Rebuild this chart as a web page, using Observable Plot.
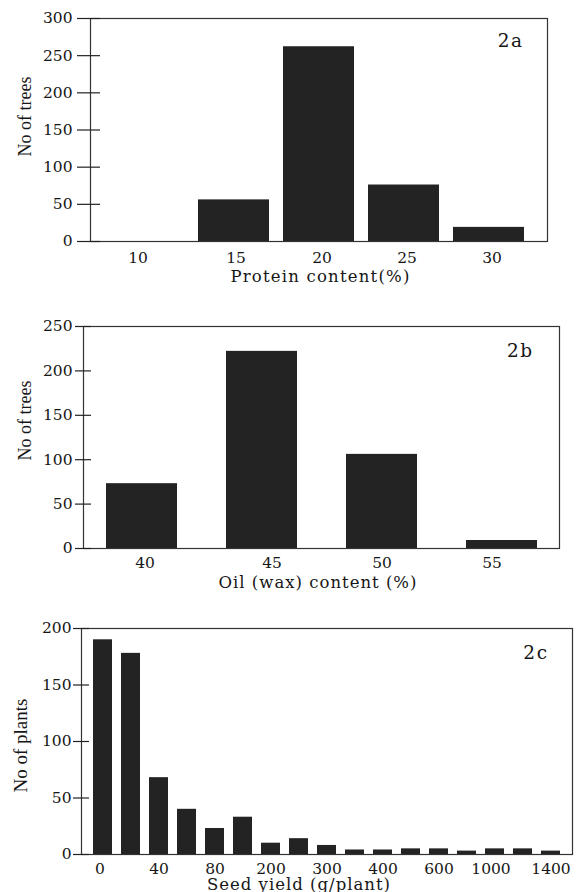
<!DOCTYPE html>
<html><head><meta charset="utf-8">
<script src="https://cdn.jsdelivr.net/npm/d3@7"></script>
<script src="https://cdn.jsdelivr.net/npm/@observablehq/plot@0.6"></script>
<style>
body{margin:0;background:#fff;}
#fig{position:relative;width:578px;height:892px;overflow:hidden;background:#fff;}
.panel{position:absolute;left:0;}
</style></head><body><div id="fig"></div>
<script>
// Panel 2a: protein content
const proteinBins = ["10", "15", "20", "25", "30"];
const proteinTrees = [0, 56, 262, 76, 19];
const proteinYTicks = [0, 50, 100, 150, 200, 250, 300];

// Panel 2b: oil (wax) content
const oilBins = ["40", "45", "50", "55"];
const oilTrees = [73, 222, 106, 9];
const oilYTicks = [0, 50, 100, 150, 200, 250];

// Panel 2c: seed yield
const seedBins = ["0", "20", "40", "60", "80", "100", "200", "250", "300", "350", "400", "500", "600", "800", "1000", "1200", "1400"];
const seedPlants = [190, 178, 68, 40, 23, 33, 10, 14, 8, 4, 4, 5, 5, 3, 5, 5, 3];
const seedXTicks = ["0", "40", "80", "200", "300", "400", "600", "1000", "1400"];
const seedYTicks = [0, 50, 100, 150, 200];

function panel(o) {
  const data = o.bins.map((b, i) => ({bin: b, n: o.values[i]}));
  const plotW = 578 - o.m[1] - o.m[3];
  const shifts = o.xShift || {};
  const plainTicks = o.xTicks.filter(t => !(t in shifts));
  const xAxisOpts = {tickSize: 0, tickPadding: o.lab.xPad, label: null};
  const svg = Plot.plot({
    width: 578, height: o.height,
    marginTop: o.m[0], marginRight: o.m[1], marginBottom: o.m[2], marginLeft: o.m[3],
    style: {fontFamily: "'DejaVu Serif', serif", fontSize: "15.5px", color: "#161616", background: "transparent", overflow: "visible"},
    x: {domain: o.bins, paddingInner: o.pad[0], paddingOuter: o.pad[1]},
    y: {domain: [0, o.yMax]},
    marks: [
      Plot.barY(data, {x: "bin", y: "n", fill: "#232323"}),
      Plot.frame({stroke: "#333", strokeWidth: 1.2}),
      Plot.ruleY(o.yTicks, {insetLeft: -o.tk.out, insetRight: plotW - o.tk.in, stroke: "#222", strokeWidth: 1.2}),
      Plot.axisY(o.yTicks, {tickSize: 0, tickPadding: o.tk.out + o.tk.pad, label: null}),
      Plot.axisX(plainTicks, xAxisOpts),
      ...Object.entries(shifts).map(([t, dx]) => Plot.axisX([t], {...xAxisOpts, dx})),
      Plot.text([o.yTitle], {text: d => d, frameAnchor: "left", lineAnchor: "middle", textAnchor: "middle", rotate: -90, dx: o.lab.yDx, dy: o.lab.yDy, fontFamily: "'Liberation Serif', serif", fontSize: o.lab.ySize}),
      Plot.text([o.xTitle], {text: d => d, frameAnchor: "bottom", lineAnchor: "middle", textAnchor: "middle", dx: o.lab.xDx, dy: o.lab.xDy, fontSize: 16.5}),
      Plot.text([o.tag], {text: d => d, frameAnchor: "top-right", lineAnchor: "middle", textAnchor: "end", dx: o.lab.tDx, dy: o.lab.tDy, fontSize: 18.5})
    ]
  });
  svg.querySelectorAll("text").forEach(t => {
    if (t.textContent === o.xTitle) t.style.letterSpacing = o.lab.xSpace + "px";
    if (t.textContent === o.tag) t.style.letterSpacing = "1.5px";
  });
  const div = document.createElement("div");
  div.className = "panel";
  div.style.top = o.top + "px";
  div.appendChild(svg);
  document.getElementById("fig").appendChild(div);
}

panel({
  bins: proteinBins, values: proteinTrees, yTicks: proteinYTicks, yMax: 300, xTicks: proteinBins,
  xShift: {"10": -11, "15": 2, "20": 3, "25": 3, "30": 3},
  tag: "2a", yTitle: "No of trees", xTitle: "Protein content(%)",
  top: 0, height: 290, m: [18, 31, 49, 90], pad: [0.165, 0.27],
  tk: {out: 13, in: 10, pad: 5},
  lab: {xPad: 10, yDx: -65.5, yDy: -13.5, ySize: 18, xDx: 1.5, xDy: 35.7, tDx: -24, tDy: 22.7, xSpace: 1.2}
});

panel({
  bins: oilBins, values: oilTrees, yTicks: oilYTicks, yMax: 250, xTicks: oilBins,
  xShift: {"40": 3, "45": 10, "55": -10},
  tag: "2b", yTitle: "No of trees", xTitle: "Oil (wax) content (%)",
  top: 300, height: 290, m: [26, 19, 42, 83], pad: [0.41, 0.175],
  tk: {out: 8, in: 8, pad: 3},
  lab: {xPad: 8, yDx: -58, yDy: -17, ySize: 18, xDx: -3.5, xDy: 34.7, tDx: -26, tDy: 25, xSpace: 1}
});

panel({
  bins: seedBins, values: seedPlants, yTicks: seedYTicks, yMax: 200, xTicks: seedXTicks,
  xShift: {"0": -3, "1000": -4},
  tag: "2c", yTitle: "No of plants", xTitle: "Seed yield (g/plant)",
  top: 600, height: 292, m: [28, 6, 38, 81], pad: [0.33, 0.35],
  tk: {out: 8, in: 8, pad: 2},
  lab: {xPad: 8, yDx: -61, yDy: 4, ySize: 19, xDx: -28, xDy: 30.2, tDx: -24, tDy: 25, xSpace: 1}
});
</script></body></html>
